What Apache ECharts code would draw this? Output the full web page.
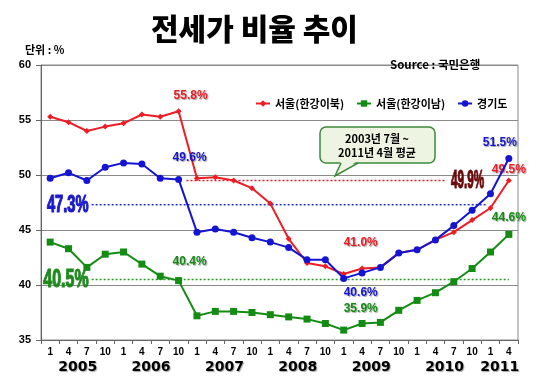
<!DOCTYPE html>
<html><head><meta charset="utf-8">
<script src="https://cdn.jsdelivr.net/npm/echarts@6/dist/echarts.min.js"></script>
<style>html,body{margin:0;padding:0;background:#fff}#c{width:550px;height:383px}</style>
</head><body><div id="c"></div>
<script>
const years = ['2005','2006','2007','2008','2009','2010','2011'];
const quarterMonths = ['1','4','7','10'];
const lastYearMonths = ['1','4'];
const seriesNames = ['서울(한강이북)','서울(한강이남)','경기도'];
const gangbuk = [55.3,54.8,54.0,54.4, 54.7,55.5,55.3,55.8, 49.7,49.8,49.5,48.8, 47.4,44.2,42.0,41.7, 41.0,41.5,41.6,42.9, 43.2,44.1,44.8,45.9, 47.0,49.5];
const gangnam = [43.9,43.3,41.6,42.8, 43.0,41.9,40.8,40.4, 37.2,37.6,37.6,37.5, 37.3,37.1,36.9,36.5, 35.9,36.5,36.6,37.7, 38.6,39.3,40.3,41.5, 43.0,44.6];
const gyeonggi = [49.7,50.2,49.5,50.7, 51.1,51.0,49.7,49.6, 44.8,45.1,44.8,44.3, 43.9,43.4,42.3,42.3, 40.6,41.1,41.6,42.9, 43.2,44.1,45.4,46.8, 48.3,51.5];
// averages (2003.7 ~ 2011.4): value drawn, label text, span in category units
const avgValues = [49.5, 40.5, 47.3];
const avgLabels = ['49.9%', '40.5%', '47.3%'];
const avgRanges = [[7.93, 22.07], [2.76, 25.5], [2.76, 24.3]];
const yMin = 35, yMax = 60, yStep = 5;
const calloutLines = ['2003년 7월 ~', '2011년 4월 평균'];

const categories = [];
const yearCenters = {};
years.forEach((y, i) => {
  const ms = i === years.length - 1 ? lastYearMonths : quarterMonths;
  const start = categories.length;
  ms.forEach(m => categories.push(y + '.' + m));
  yearCenters[(start + categories.length) / 2] = y;
});

const colors = ['#EE1C24', '#148C14', '#1414D2'];
const avgColors = ['#E0202A', '#2A9A2A', '#2030CC'];
const avgLabelColors = ['#6A0A0A', '#1E8A1E', '#1A1ACC'];
const shadow = {textShadowColor: 'rgba(0,0,0,0.35)', textShadowOffsetX: 1, textShadowOffsetY: 1, textShadowBlur: 1};

function lbl(color, position, offset) {
  return Object.assign({show: true, position, offset, color, fontWeight: 'bold', fontSize: 12,
    fontFamily: 'Liberation Sans, Arial, sans-serif', formatter: p => p.value.toFixed(1) + '%'}, shadow);
}
const labelSpecs = [
  {7: ['top', [12, -2]], 16: ['top', [17, -17]], 25: ['top', [0, 3]]},
  {7: ['top', [11, -4]], 16: ['top', [17, -7]], 25: ['top', [0, -2]]},
  {7: ['top', [11, -7]], 16: ['bottom', [17, 0]], 25: ['top', [-9, -1]]}
];
const symbols = [['diamond', 6], ['rect', 7], ['circle', 7]];
const values = [gangbuk, gangnam, gyeonggi];

const series = values.map((vals, s) => ({
  name: seriesNames[s], type: 'line', xAxisIndex: 0, yAxisIndex: 0,
  symbol: symbols[s][0], symbolSize: symbols[s][1], z: 3 + s,
  itemStyle: {color: colors[s]}, lineStyle: {color: colors[s], width: 2},
  data: vals.map((v, i) => labelSpecs[s][i] ? {value: v, label: lbl(colors[s], labelSpecs[s][i][0], labelSpecs[s][i][1])} : v)
}));

avgValues.forEach((v, s) => {
  series.push({
    name: 'avg' + s, type: 'line', xAxisIndex: 1, yAxisIndex: 0, symbol: 'none',
    silent: true, z: 2,
    lineStyle: {color: avgColors[s], width: 1.5, type: [2, 2]},
    data: [[avgRanges[s][0], v], [avgRanges[s][1], v]]
  });
});

const cjk = 'Noto Sans CJK KR, sans-serif';
const calloutGraphic = [
  {type: 'rect', z: 10, shape: {x: 320, y: 127, width: 115, height: 36, r: 6},
    style: {fill: '#EEF4E2', stroke: '#3A8A3A', lineWidth: 1.5}},
  {type: 'polygon', z: 11, shape: {points: [[341, 161], [357, 161], [335, 176]]},
    style: {fill: '#EEF4E2'}},
  {type: 'polyline', z: 11, shape: {points: [[341, 163], [335, 176], [358, 163]]},
    style: {fill: null, stroke: '#3A8A3A', lineWidth: 1.5}},
  {type: 'text', z: 12, x: 377, y: 139, style: {text: calloutLines[0], align: 'center', verticalAlign: 'middle', fontSize: 11, fontWeight: 'bold', fill: '#000', fontFamily: cjk}},
  {type: 'text', z: 12, x: 377, y: 153, style: {text: calloutLines[1], align: 'center', verticalAlign: 'middle', fontSize: 11, fontWeight: 'bold', fill: '#000', fontFamily: cjk}}
];

const chart = echarts.init(document.getElementById('c'));
chart.setOption({
  animation: false,
  backgroundColor: '#fff',
  title: [
    {text: '전세가 비율 추이', left: 146, top: 9,
      textStyle: {fontSize: 30, fontWeight: 900, color: '#000', fontFamily: cjk}},
    {text: '단위 : %', left: 20, top: 39,
      textStyle: {fontSize: 11, fontWeight: 'bold', color: '#000', fontFamily: cjk}},
    {text: 'Source : 국민은행', left: 385, top: 54,
      textStyle: {fontSize: 11.5, fontWeight: 'bold', color: '#000', fontFamily: cjk}}
  ],
  legend: {
    data: seriesNames, left: 250, top: 93, itemWidth: 14, itemHeight: 8, itemGap: 12,
    textStyle: {fontSize: 11, fontWeight: 'bold', color: '#000', fontFamily: cjk}
  },
  grid: {left: 41, right: 32, top: 65, bottom: 43, show: true, borderColor: '#8a8a8a', borderWidth: 1},
  xAxis: [
    {type: 'category', data: categories, boundaryGap: true,
      axisLine: {lineStyle: {color: '#666'}},
      axisTick: {show: true, length: 4, lineStyle: {color: '#666'}},
      axisLabel: {interval: 0, margin: 7, fontSize: 10, fontWeight: 'bold', color: '#000',
        fontFamily: 'Liberation Sans, Arial, sans-serif', formatter: v => v.split('.')[1]},
      splitLine: {show: false}},
    {type: 'value', min: 0, max: categories.length, interval: 1, position: 'bottom',
      axisLine: {show: false}, axisTick: {show: false}, splitLine: {show: false},
      axisLabel: Object.assign({margin: 20, fontSize: 14, fontWeight: 'bold', color: '#000', showMinLabel: true, showMaxLabel: true,
        fontFamily: 'DejaVu Sans, sans-serif', formatter: v => yearCenters[v] || ''}, shadow)}
  ],
  yAxis: {type: 'value', min: yMin, max: yMax, interval: yStep,
    axisLine: {show: true, lineStyle: {color: '#666'}},
    axisTick: {show: true, length: 5, lineStyle: {color: '#666'}},
    axisLabel: {margin: 10, fontSize: 11, fontWeight: 'bold', color: '#000', fontFamily: 'Liberation Sans, Arial, sans-serif'},
    splitLine: {show: true, lineStyle: {color: '#8a8a8a', width: 1}}},
  graphic: calloutGraphic,
  series
});

// condensed average labels, positioned through the axes' scales
const avgLabelGraphic = avgValues.map((v, s) => {
  const atEnd = s === 0;
  const p = chart.convertToPixel({xAxisIndex: 1, yAxisIndex: 0}, [avgRanges[s][atEnd ? 1 : 0], v]);
  return {
    type: 'text', z: 9, x: p[0] + (atEnd ? 5 : -3), y: p[1] + 1,
    scaleX: atEnd ? 0.47 : 0.64,
    style: {text: avgLabels[s], align: atEnd ? 'left' : 'right', verticalAlign: 'middle',
      fontSize: atEnd ? 25 : (s === 1 ? 25 : 23), fontWeight: 'bold', fontFamily: 'Liberation Sans, Arial, sans-serif',
      fill: avgLabelColors[s], stroke: avgLabelColors[s], lineWidth: 1.2,
      shadowColor: 'rgba(0,0,0,0.45)', shadowOffsetX: 1, shadowOffsetY: 1, shadowBlur: 1}
  };
});
chart.setOption({graphic: calloutGraphic.concat(avgLabelGraphic)});
</script></body></html>
